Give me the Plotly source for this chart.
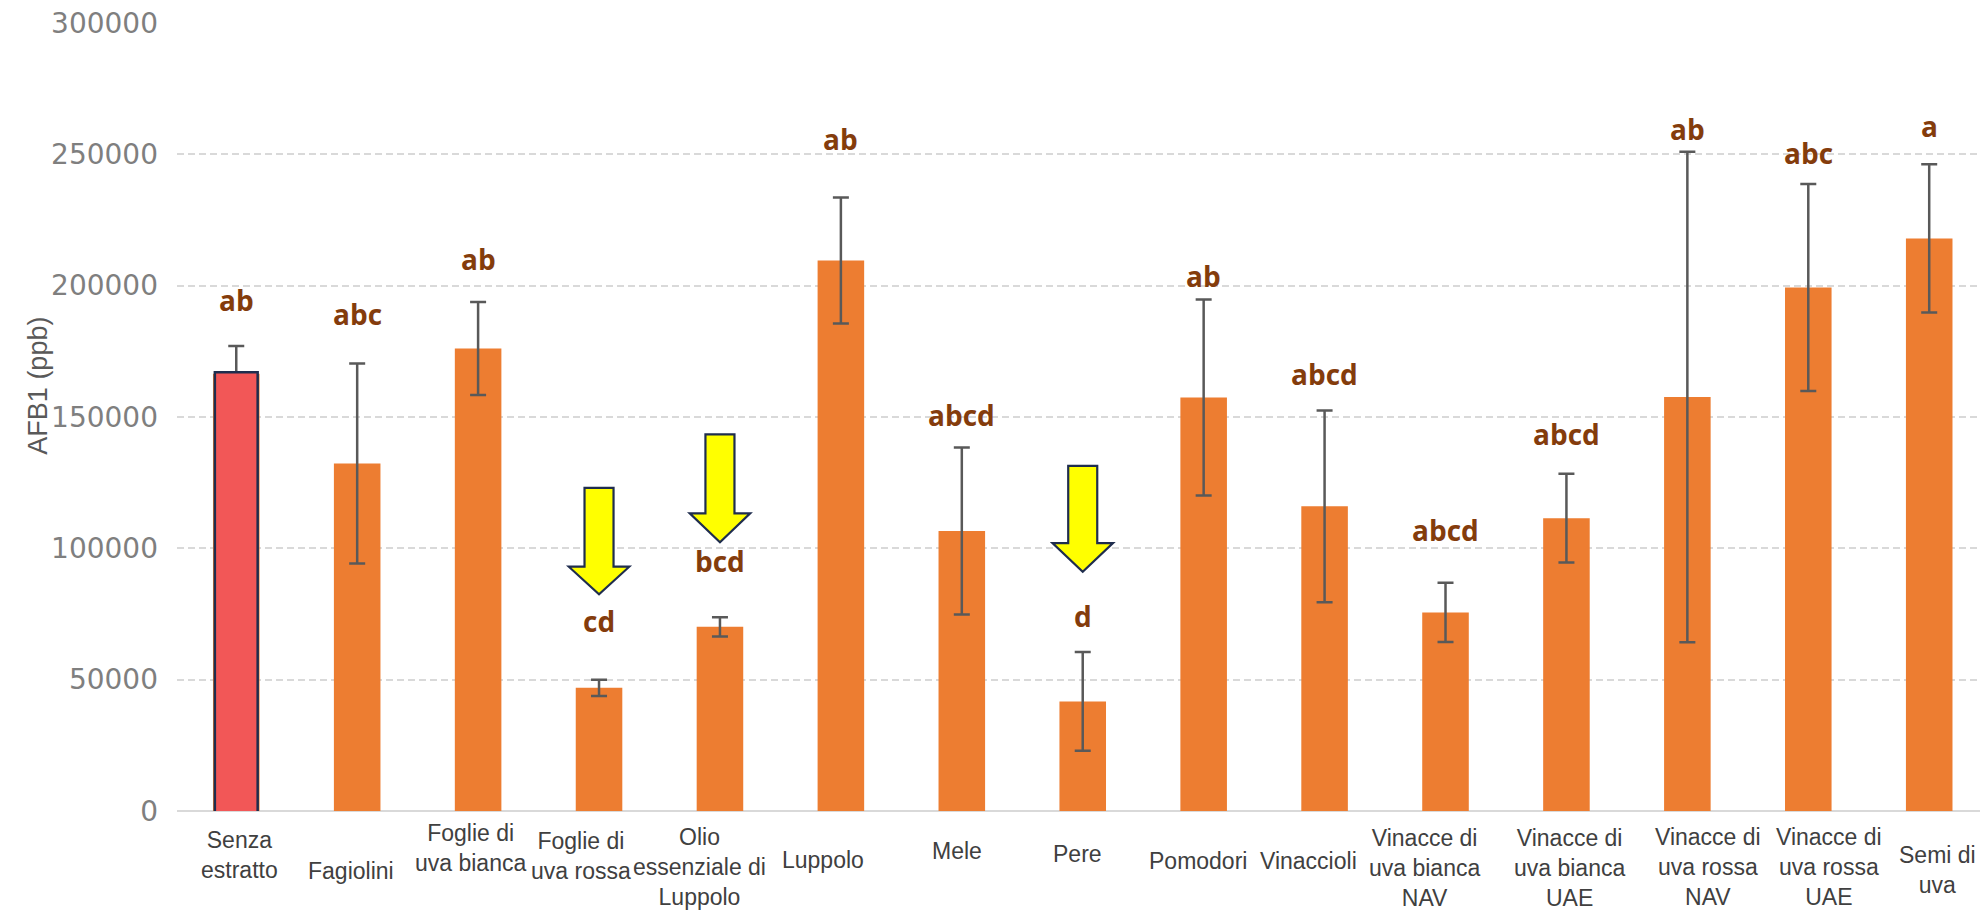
import plotly.graph_objects as go

# AFB1 content (ppb) for each extract, with standard deviation and Tukey letters
categories = [
    "Senza<br>estratto", "Fagiolini", "Foglie di<br>uva bianca", "Foglie di<br>uva rossa",
    "Olio<br>essenziale di<br>Luppolo", "Luppolo", "Mele", "Pere", "Pomodori", "Vinaccioli",
    "Vinacce di<br>uva bianca<br>NAV", "Vinacce di<br>uva bianca<br>UAE",
    "Vinacce di<br>uva rossa<br>NAV", "Vinacce di<br>uva rossa<br>UAE", "Semi di<br>uva",
]
afb1_mean = [166500, 132300, 176100, 46900, 70100, 209600, 106600, 41700,
             157400, 116000, 75600, 111500, 157600, 199300, 218000]
afb1_sd = [10500, 38100, 17700, 3100, 3700, 24000, 31800, 18800,
           37300, 36500, 11300, 16900, 93400, 39400, 28200]
letters = ["ab", "abc", "ab", "cd", "bcd", "ab", "abcd", "d",
           "ab", "abcd", "abcd", "abcd", "ab", "abc", "a"]
y_ticks = [0, 50000, 100000, 150000, 200000, 250000, 300000]

# placement of the significance letters (data units, text centre)
letter_y = [194500, 189400, 210300, 72300, 95300, 255700, 150900, 74400,
            203500, 166500, 107100, 143700, 259700, 250600, 260800]
# category label offsets below the axis (px): vertical centre, horizontal nudge
label_dy = [-44, -60, -37, -45, -56, -49, -40, -43, -50, -50, -57, -57, -56, -56, -59]
label_dx = [3, -6, -8, -18, -20, -18, -5, -5, -6, -16, -21, 3, 21, 21, 8]
# highlighted treatments: (index, arrow top, shoulder, tip) in data units
arrows = [(3, 123000, 93000, 82500), (4, 143400, 113300, 102300), (7, 131400, 102000, 91100)]

ORANGE = "#ED7D31"
BROWN = "#843C0C"
NAVY = "#1F2D4E"

xs = list(range(len(categories)))

fig = go.Figure()
fig.add_trace(go.Bar(
    x=xs, y=afb1_mean, width=0.385,
    marker=dict(color=ORANGE, line=dict(width=0)),
    error_y=dict(type="data", array=afb1_sd, visible=True,
                 color="#595959", thickness=2.5, width=8),
    hoverinfo="skip",
))

shapes = []
# control sample outlined in red
shapes.append(dict(
    type="rect", xref="x", yref="y", x0=xs[0] - 0.177, x1=xs[0] + 0.177,
    y0=-2500, y1=afb1_mean[0] + 500, layer="above",
    fillcolor="#F25757", line=dict(color=NAVY, width=2.5),
))
# downward yellow arrows
for i, top, sh, tip in arrows:
    bw, hw = 0.12, 0.25
    path = (f"M {i - bw},{top} L {i + bw},{top} L {i + bw},{sh} L {i + hw},{sh} "
            f"L {i},{tip} L {i - hw},{sh} L {i - bw},{sh} Z")
    shapes.append(dict(type="path", xref="x", yref="y", path=path, layer="above",
                       fillcolor="#FFFF00", line=dict(color=NAVY, width=2.2)))

annotations = []
for i, (lt, ly) in enumerate(zip(letters, letter_y)):
    annotations.append(dict(
        x=i, y=ly, xref="x", yref="y", text=f"<b>{lt}</b>", showarrow=False,
        xanchor="center", yanchor="middle",
        font=dict(family="Open Sans, Lato, sans-serif", size=28, color=BROWN),
    ))
for i, (cat, dy, dx) in enumerate(zip(categories, label_dy, label_dx)):
    annotations.append(dict(
        x=i, y=0, xref="x", yref="y", text=cat, showarrow=False,
        xanchor="center", yanchor="middle", align="center",
        yshift=dy, xshift=dx,
        font=dict(family="Liberation Sans, Arial, sans-serif", size=23, color="#404040"),
    ))
annotations.append(dict(
    x=-0.077, y=0.54, xref="paper", yref="paper", text="AFB1 (ppb)", showarrow=False,
    textangle=-90, xanchor="center", yanchor="middle",
    font=dict(family="Liberation Sans Narrow, Liberation Sans, Arial, sans-serif",
              size=27, color="#595959"),
))

fig.update_layout(
    width=1980, height=915,
    margin=dict(l=177, r=0, t=23, b=104),
    paper_bgcolor="white", plot_bgcolor="white",
    showlegend=False, bargap=0.6,
    shapes=shapes, annotations=annotations,
    xaxis=dict(range=[-0.49, 14.42], showticklabels=False, showgrid=False,
               zeroline=False, showline=False, ticks=""),
    yaxis=dict(range=[0, 300000], tickvals=y_ticks, ticktext=[str(v) for v in y_ticks],
               showgrid=True, gridcolor="#D9D9D9", gridwidth=2, griddash="7px,4px",
               zeroline=True, zerolinecolor="#D9D9D9", zerolinewidth=2,
               showline=False, ticks="", ticklabelstandoff=18,
               tickfont=dict(family="DejaVu Sans, sans-serif", size=28, color="#7F7F7F")),
)

fig.write_html("out.html")
